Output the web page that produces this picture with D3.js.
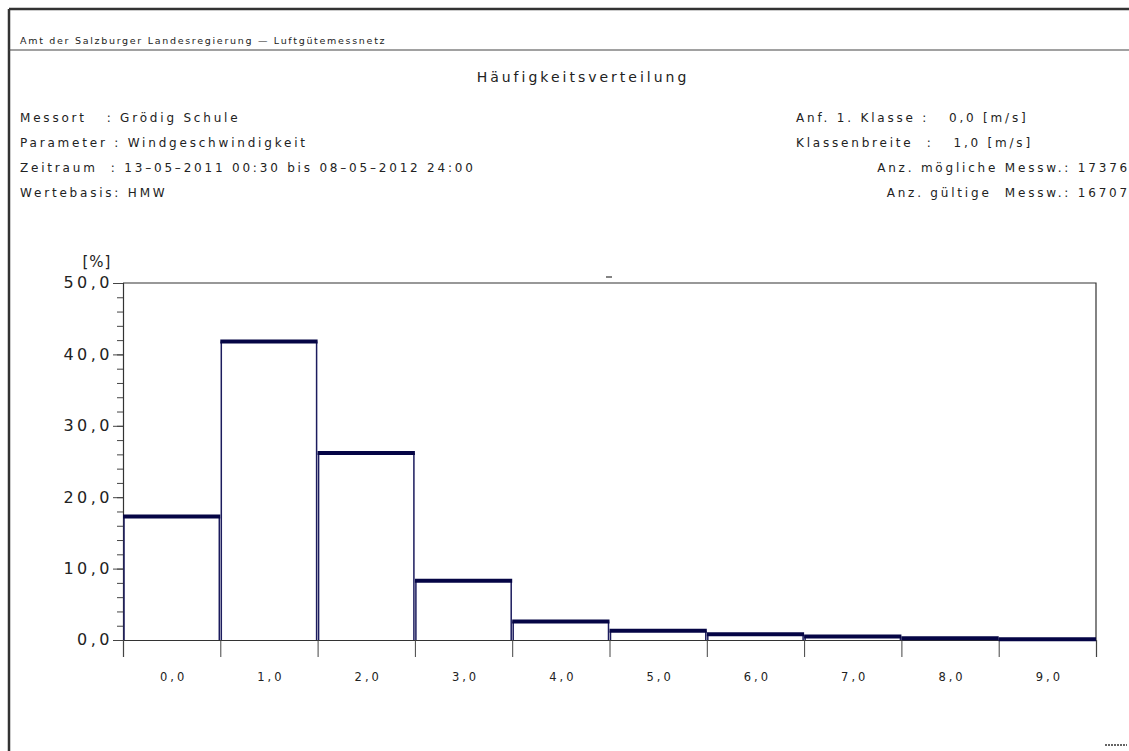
<!DOCTYPE html>
<html>
<head>
<meta charset="utf-8">
<script src="https://cdn.jsdelivr.net/npm/d3@7"></script>
<style>
  body { margin: 0; background: #fff; }
  text { font-family: "DejaVu Sans", sans-serif; fill: #222; }
</style>
</head>
<body>
<div id="plot"></div>
<script>
// class starts (m/s) and frequency in %
const classes = [0, 1, 2, 3, 4, 5, 6, 7, 8, 9];
const freq = [17.3, 41.8, 26.2, 8.3, 2.6, 1.3, 0.8, 0.5, 0.25, 0.1];
const yTicks = [0, 10, 20, 30, 40, 50];
const xLabels = ["0,0", "1,0", "2,0", "3,0", "4,0", "5,0", "6,0", "7,0", "8,0", "9,0"];

const leftInfo = [
  "Messort   : Grödig Schule",
  "Parameter : Windgeschwindigkeit",
  "Zeitraum  : 13–05–2011 00:30 bis 08–05–2012 24:00",
  "Wertebasis: HMW"
];
const rightInfo = [
  "Anf. 1. Klasse :   0,0 [m/s]",
  "Klassenbreite  :   1,0 [m/s]"
];
const rightCounts = [
  "Anz. mögliche Messw.: 17376",
  "Anz. gültige  Messw.: 16707"
];

const W = 1129, H = 751;
const margin = { top: 283, right: 33, bottom: 111, left: 123 };
const width = W - margin.left - margin.right;
const height = H - margin.top - margin.bottom;

const root = d3.select("#plot").append("svg")
  .attr("width", W).attr("height", H);

// page frame
root.append("line").attr("x1", 9).attr("x2", W).attr("y1", 9).attr("y2", 9)
  .attr("stroke", "#333").attr("stroke-width", 2.5);
root.append("line").attr("x1", 9).attr("x2", 9).attr("y1", 9).attr("y2", H)
  .attr("stroke", "#333").attr("stroke-width", 2.5);
root.append("line").attr("x1", 9).attr("x2", W).attr("y1", 50).attr("y2", 50)
  .attr("stroke", "#444").attr("stroke-width", 1.2);

root.append("text").attr("x", 20).attr("y", 44)
  .style("font-size", "9.5px").style("letter-spacing", "1.7px")
  .text("Amt der Salzburger Landesregierung — Luftgütemessnetz");

root.append("text").attr("x", 583).attr("y", 82)
  .attr("text-anchor", "middle")
  .style("font-size", "14px").style("letter-spacing", "3px")
  .text("Häufigkeitsverteilung");

const infoStyle = sel => sel
  .style("font-size", "12px").style("letter-spacing", "2.8px")
  .style("white-space", "pre");

root.selectAll("text.linfo").data(leftInfo).join("text")
  .attr("class", "linfo")
  .attr("x", 20).attr("y", (d, i) => 122 + i * 25)
  .call(infoStyle)
  .text(d => d);

root.selectAll("text.rinfo").data(rightInfo).join("text")
  .attr("class", "rinfo")
  .attr("x", 796).attr("y", (d, i) => 122 + i * 25)
  .call(infoStyle)
  .text(d => d);

root.selectAll("text.rcount").data(rightCounts).join("text")
  .attr("class", "rcount")
  .attr("x", 1130).attr("y", (d, i) => 172 + i * 25)
  .attr("text-anchor", "end")
  .call(infoStyle)
  .text(d => d);

const svg = root.append("g")
  .attr("transform", `translate(${margin.left},${margin.top})`);

const x = d3.scaleLinear().domain([0, 10]).range([0, width]);
const y = d3.scaleLinear().domain([0, 50]).range([height, 0]);

// plot frame (top + right)
svg.append("path")
  .attr("d", `M0,0H${width}V${height}`)
  .attr("fill", "none").attr("stroke", "#333").attr("stroke-width", 1.2);

// y axis with minor ticks
svg.append("g")
  .call(d3.axisLeft(y).tickValues(d3.range(0, 51, 2)).tickSize(6).tickFormat(""))
  .call(g => g.select(".domain").attr("stroke", "#333").attr("stroke-width", 1.2))
  .call(g => g.selectAll(".tick line").attr("stroke", "#444"));
svg.append("g")
  .call(d3.axisLeft(y).tickValues(yTicks).tickSize(10).tickPadding(0)
    .tickFormat(d => d3.format(".1f")(d).replace(".", ",")))
  .call(g => g.select(".domain").remove())
  .call(g => g.selectAll(".tick line").attr("stroke", "#444"))
  .call(g => g.selectAll(".tick text")
    .style("font-size", "16px").style("letter-spacing", "3.5px")
    .attr("fill", "#333").attr("dy", "0.3em"));

svg.append("text").attr("x", -26).attr("y", -16)
  .attr("text-anchor", "middle")
  .style("font-size", "15px").style("letter-spacing", "1px")
  .text("[%]");

// x axis: ticks at class boundaries, labels at class centres
svg.append("g")
  .attr("transform", `translate(0,${height})`)
  .call(d3.axisBottom(x).tickValues(d3.range(0, 11)).tickSize(17).tickFormat(""))
  .call(g => g.select(".domain").attr("stroke", "#333").attr("stroke-width", 1.2))
  .call(g => g.selectAll(".tick line").attr("stroke", "#444"));

svg.selectAll("text.xl").data(xLabels).join("text")
  .attr("class", "xl")
  .attr("x", (d, i) => x(classes[i] + 0.5) + 2)
  .attr("y", height + 41)
  .attr("text-anchor", "middle")
  .style("font-size", "11.5px").style("letter-spacing", "3px")
  .attr("fill", "#333")
  .text(d => d);

// histogram bars: thin sides, thick top
const bars = svg.selectAll("g.bar").data(classes).join("g").attr("class", "bar");
bars.append("path")
  .attr("d", (d, i) => `M${x(d) + 1},${height}V${y(freq[i])}M${x(d + 1) - 1},${y(freq[i])}V${height}`)
  .attr("fill", "none").attr("stroke", "#1c1c5e").attr("stroke-width", 1.5);
bars.append("line")
  .attr("x1", d => x(d)).attr("x2", d => x(d + 1))
  .attr("y1", (d, i) => y(freq[i])).attr("y2", (d, i) => y(freq[i]))
  .attr("stroke", "#050545").attr("stroke-width", 4);

// small marker above plot
svg.append("line").attr("x1", 483).attr("x2", 489).attr("y1", -6).attr("y2", -6)
  .attr("stroke", "#333").attr("stroke-width", 1.2);
root.append("line").attr("x1", 1105).attr("x2", 1127).attr("y1", 745).attr("y2", 745)
  .attr("stroke", "#333").attr("stroke-width", 1.5).attr("stroke-dasharray", "2,1");
</script>
</body>
</html>
